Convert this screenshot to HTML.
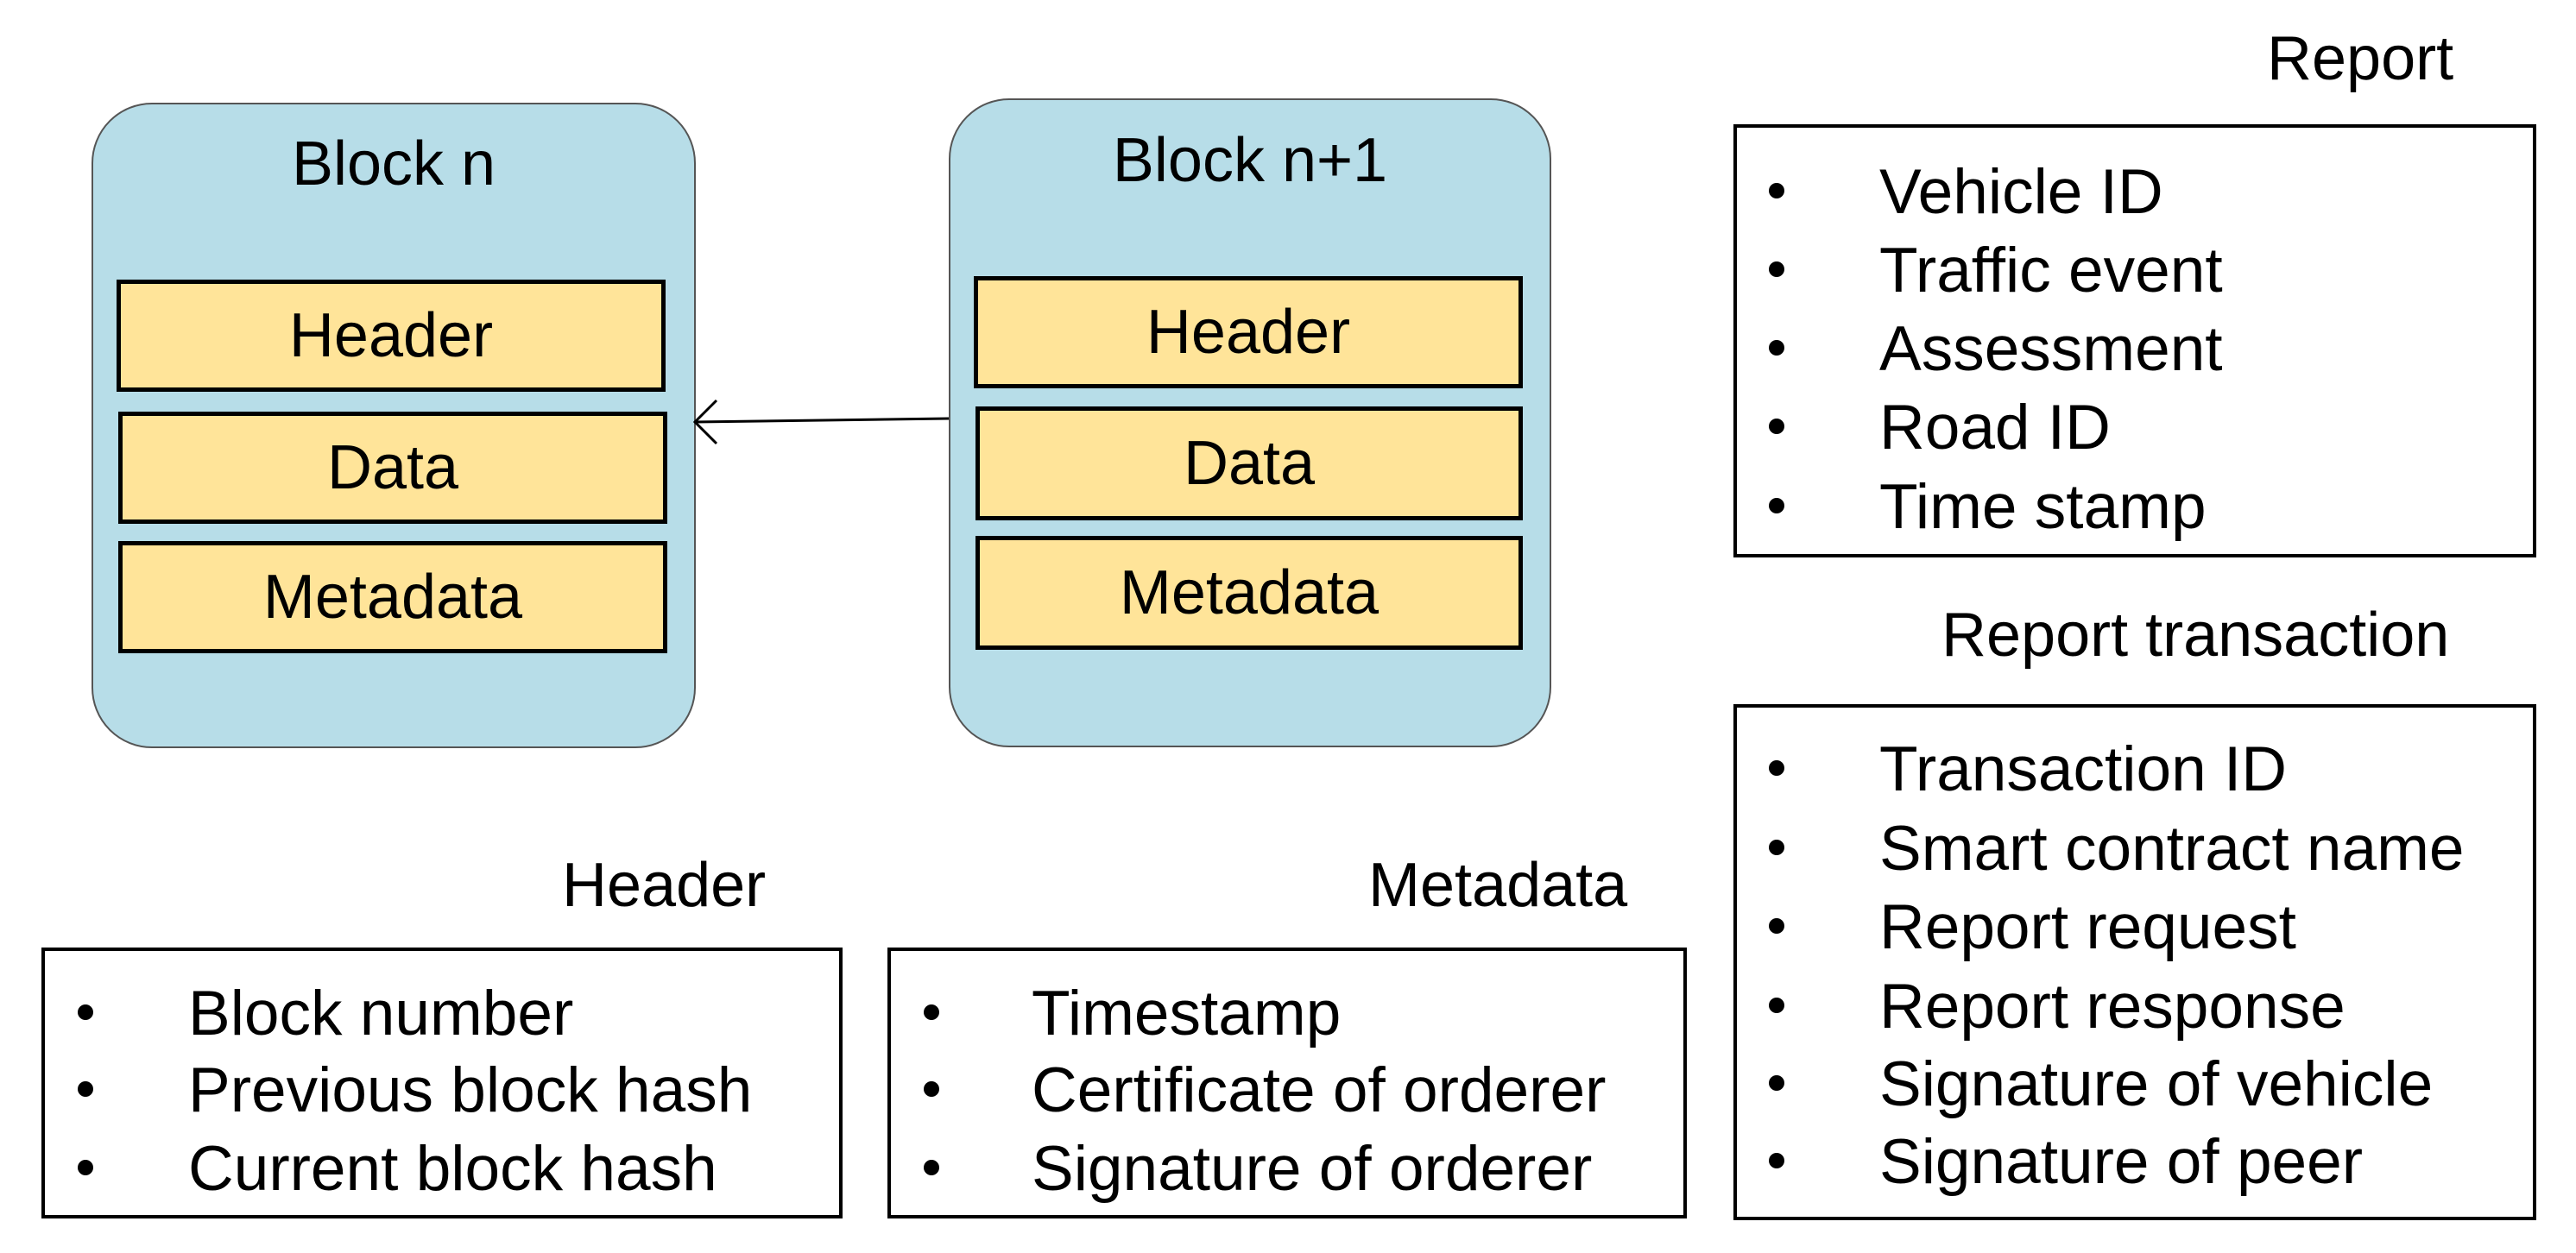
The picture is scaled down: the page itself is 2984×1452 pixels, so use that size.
<!DOCTYPE html>
<html><head><meta charset="utf-8"><style>
body{margin:0;width:2984px;height:1452px;background:#fff;position:relative;overflow:hidden;font-family:"Liberation Sans",Arial,sans-serif;color:#000}
div{position:absolute;box-sizing:border-box}
.blk{background:#b7dde8;border:2px solid #555;border-radius:70px}
.in{background:#ffe499;border:5px solid #000;font-size:72px;display:flex;align-items:center;justify-content:center}
.t{font-size:72px;white-space:nowrap;line-height:1}
.box{border:4px solid #000;background:#fff}
.li{font-size:73px;white-space:nowrap;line-height:1}
.li b{position:absolute;width:18px;height:18px;border-radius:50%;background:#000}
</style></head><body>
<div class="blk" style="left:106px;top:119px;width:700px;height:748px"></div>
<div class="blk" style="left:1099px;top:114px;width:698px;height:752px"></div>
<div class="t" style="left:106px;width:700px;text-align:center;top:154px">Block n</div>
<div class="t" style="left:1099px;width:698px;text-align:center;top:150px">Block n+1</div>
<div class="in" style="left:135px;top:324px;width:636px;height:130px">Header</div>
<div class="in" style="left:137px;top:477px;width:636px;height:130px">Data</div>
<div class="in" style="left:137px;top:627px;width:636px;height:130px">Metadata</div>
<div class="in" style="left:1128px;top:320px;width:636px;height:130px">Header</div>
<div class="in" style="left:1130px;top:471px;width:634px;height:132px">Data</div>
<div class="in" style="left:1130px;top:621px;width:634px;height:132px">Metadata</div>
<svg style="position:absolute;left:0;top:0" width="2984" height="1452"><path d="M1099 485 L805 489" stroke="#000" stroke-width="3" fill="none"/><path d="M830 464 L805 489 L830 514" stroke="#000" stroke-width="3" fill="none"/></svg>

<div class="t" style="left:2626px;top:32px">Report</div>
<div class="box" style="left:2008px;top:144px;width:930px;height:502px"></div>
<div class="t" style="left:2249px;top:700px">Report transaction</div>
<div class="box" style="left:2008px;top:816px;width:930px;height:598px"></div>

<div class="t" style="left:651px;top:990px">Header</div>
<div class="box" style="left:48px;top:1098px;width:928px;height:314px"></div>
<div class="t" style="left:1585px;top:990px">Metadata</div>
<div class="box" style="left:1028px;top:1098px;width:926px;height:314px"></div>

<div class="li" style="left:2049px;top:186px"><b style="left:0;top:26px"></b><span style="position:absolute;left:128px;top:0">Vehicle&nbsp;ID</span></div>
<div class="li" style="left:2049px;top:277px"><b style="left:0;top:26px"></b><span style="position:absolute;left:128px;top:0">Traffic&nbsp;event</span></div>
<div class="li" style="left:2049px;top:368px"><b style="left:0;top:26px"></b><span style="position:absolute;left:128px;top:0">Assessment</span></div>
<div class="li" style="left:2049px;top:459px"><b style="left:0;top:26px"></b><span style="position:absolute;left:128px;top:0">Road&nbsp;ID</span></div>
<div class="li" style="left:2049px;top:551px"><b style="left:0;top:26px"></b><span style="position:absolute;left:128px;top:0">Time&nbsp;stamp</span></div>

<div class="li" style="left:2049px;top:855px"><b style="left:0;top:26px"></b><span style="position:absolute;left:128px;top:0">Transaction&nbsp;ID</span></div>
<div class="li" style="left:2049px;top:947px"><b style="left:0;top:26px"></b><span style="position:absolute;left:128px;top:0">Smart&nbsp;contract&nbsp;name</span></div>
<div class="li" style="left:2049px;top:1038px"><b style="left:0;top:26px"></b><span style="position:absolute;left:128px;top:0">Report&nbsp;request</span></div>
<div class="li" style="left:2049px;top:1130px"><b style="left:0;top:26px"></b><span style="position:absolute;left:128px;top:0">Report&nbsp;response</span></div>
<div class="li" style="left:2049px;top:1220px"><b style="left:0;top:26px"></b><span style="position:absolute;left:128px;top:0">Signature&nbsp;of&nbsp;vehicle</span></div>
<div class="li" style="left:2049px;top:1310px"><b style="left:0;top:26px"></b><span style="position:absolute;left:128px;top:0">Signature&nbsp;of&nbsp;peer</span></div>

<div class="li" style="left:90px;top:1138px"><b style="left:0;top:26px"></b><span style="position:absolute;left:128px;top:0">Block&nbsp;number</span></div>
<div class="li" style="left:90px;top:1227px"><b style="left:0;top:26px"></b><span style="position:absolute;left:128px;top:0">Previous&nbsp;block&nbsp;hash</span></div>
<div class="li" style="left:90px;top:1318px"><b style="left:0;top:26px"></b><span style="position:absolute;left:128px;top:0">Current&nbsp;block&nbsp;hash</span></div>

<div class="li" style="left:1070px;top:1138px"><b style="left:0;top:26px"></b><span style="position:absolute;left:125px;top:0">Timestamp</span></div>
<div class="li" style="left:1070px;top:1227px"><b style="left:0;top:26px"></b><span style="position:absolute;left:125px;top:0">Certificate&nbsp;of&nbsp;orderer</span></div>
<div class="li" style="left:1070px;top:1318px"><b style="left:0;top:26px"></b><span style="position:absolute;left:125px;top:0">Signature&nbsp;of&nbsp;orderer</span></div>
</body></html>
